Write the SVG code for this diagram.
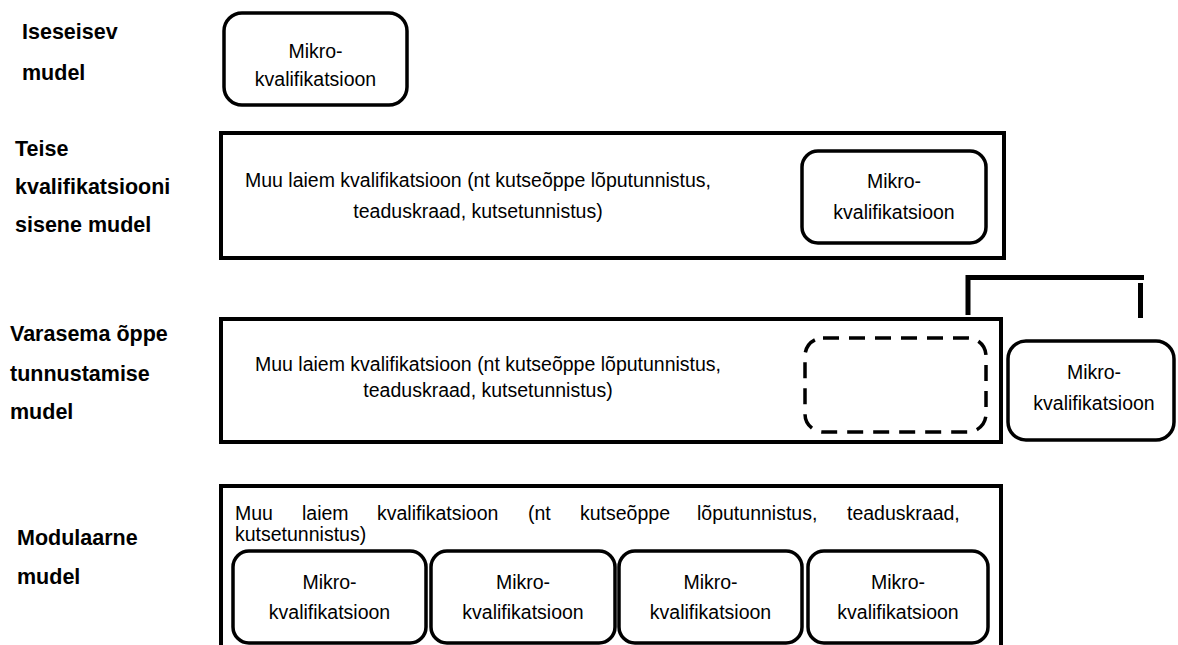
<svg xmlns="http://www.w3.org/2000/svg" width="1178" height="645" viewBox="0 0 1178 645">
<style>
.lbl{font-family:"Liberation Sans",Arial,sans-serif;font-weight:bold;font-size:21.5px;fill:#000}
.t{font-family:"Liberation Sans",Arial,sans-serif;font-size:19.5px;fill:#000}
.c{text-anchor:middle}
.big{fill:#fff;stroke:#000;stroke-width:4}
.mk{fill:#fff;stroke:#000;stroke-width:3.5}
.dash{fill:none;stroke:#000;stroke-width:3.5;stroke-dasharray:16 10}
.br{fill:none;stroke:#000;stroke-width:5}
</style>
<rect width="1178" height="645" fill="#fff"/>

<g id="row1">
<text class="lbl" x="22" y="39">Iseseisev</text>
<text class="lbl" x="22" y="80">mudel</text>
<g id="mk1">
<rect class="mk" x="224" y="13" width="183" height="92" rx="18"/>
<text class="t c" x="315.5" y="58">Mikro-</text>
<text class="t c" x="315.5" y="86">kvalifikatsioon</text>
</g>
</g>

<g id="row2">
<text class="lbl" x="15" y="156">Teise</text>
<text class="lbl" x="15" y="194">kvalifikatsiooni</text>
<text class="lbl" x="15" y="232">sisene mudel</text>
<g id="q2">
<rect class="big" x="221" y="133" width="783" height="125"/>
<text class="t c" x="478" y="187">Muu laiem kvalifikatsioon (nt kutseõppe lõputunnistus,</text>
<text class="t c" x="478" y="218">teaduskraad, kutsetunnistus)</text>
</g>
<g id="mk2">
<rect class="mk" x="802" y="151" width="184" height="92" rx="16"/>
<text class="t c" x="894" y="188">Mikro-</text>
<text class="t c" x="894" y="219">kvalifikatsioon</text>
</g>
</g>

<g id="row3">
<text class="lbl" x="10" y="341">Varasema õppe</text>
<text class="lbl" x="10" y="381">tunnustamise</text>
<text class="lbl" x="10" y="419">mudel</text>
<g id="q3">
<rect class="big" x="221" y="319" width="780" height="123"/>
<text class="t c" x="488" y="371">Muu laiem kvalifikatsioon (nt kutseõppe lõputunnistus,</text>
<text class="t c" x="488" y="397">teaduskraad, kutsetunnistus)</text>
</g>
<g id="slot3">
<rect class="dash" x="805" y="338" width="181" height="94" rx="18"/>
</g>
<g id="mk3">
<rect class="mk" x="1008" y="341" width="166" height="99" rx="18"/>
<text class="t c" x="1094" y="379">Mikro-</text>
<text class="t c" x="1094" y="410">kvalifikatsioon</text>
</g>
</g>

<g id="connectors">
<path class="br" d="M968 315 V277.5 H1144"/>
<path class="br" d="M1140.5 283 V318"/>
</g>

<g id="row4">
<text class="lbl" x="17" y="545">Modulaarne</text>
<text class="lbl" x="17" y="584">mudel</text>
<g id="q4">
<rect class="big" x="221" y="486" width="780" height="200"/>
<text class="t" y="520"><tspan x="235">Muu</tspan><tspan x="302">laiem</tspan><tspan x="377">kvalifikatsioon</tspan><tspan x="528">(nt</tspan><tspan x="580">kutseõppe</tspan><tspan x="697">lõputunnistus,</tspan><tspan x="847">teaduskraad,</tspan></text>
<text class="t" x="235" y="541">kutsetunnistus)</text>
</g>
<g id="mk4a">
<rect class="mk" x="233" y="551" width="193" height="92" rx="16"/>
<text class="t c" x="329.5" y="589">Mikro-</text>
<text class="t c" x="329.5" y="619">kvalifikatsioon</text>
</g>
<g id="mk4b">
<rect class="mk" x="431" y="551" width="184" height="92" rx="16"/>
<text class="t c" x="523" y="589">Mikro-</text>
<text class="t c" x="523" y="619">kvalifikatsioon</text>
</g>
<g id="mk4c">
<rect class="mk" x="619" y="551" width="183" height="92" rx="16"/>
<text class="t c" x="710.5" y="589">Mikro-</text>
<text class="t c" x="710.5" y="619">kvalifikatsioon</text>
</g>
<g id="mk4d">
<rect class="mk" x="808" y="551" width="180" height="92" rx="16"/>
<text class="t c" x="898" y="589">Mikro-</text>
<text class="t c" x="898" y="619">kvalifikatsioon</text>
</g>
</g>
</svg>
